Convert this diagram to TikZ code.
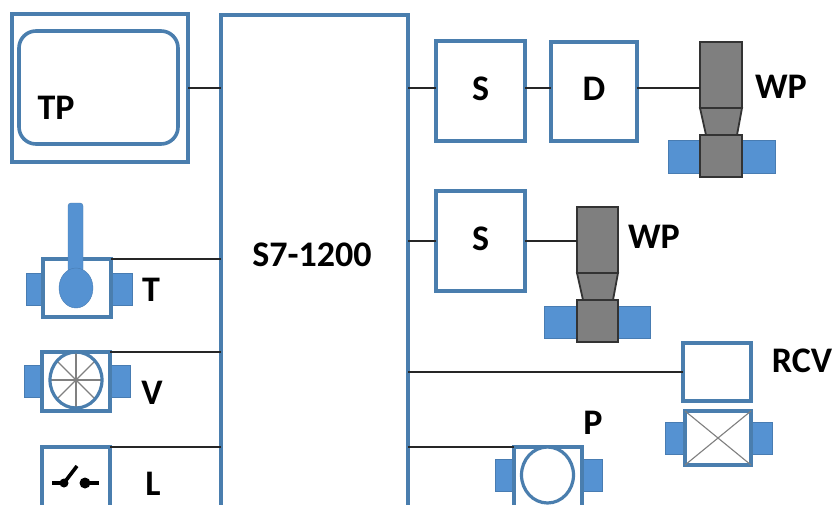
\documentclass[tikz,border=0pt]{standalone}
\usepackage{fontspec}
\usetikzlibrary{shapes.geometric}
\setmainfont{Carlito}
\definecolor{frame}{HTML}{4A7EAE}
\definecolor{pipe}{HTML}{5592D2}
\definecolor{wpgray}{HTML}{7F7F7F}
\tikzset{
  box/.style={draw=frame,line width=3.6pt,fill=white,inner sep=0pt,outer sep=0pt,text depth=5pt,font=\fontsize{36}{36}\bfseries},
  pipeblock/.style={fill=pipe,draw=pipe!85!black,line width=0.4pt,inner sep=0pt,outer sep=0pt},
  wire/.style={draw=black!85,line width=2pt},
  tag/.style={inner sep=0pt,font=\fontsize{36}{36}\bfseries},
  gray part/.style={fill=wpgray,draw=black!80,line width=1.8pt,inner sep=0pt,outer sep=0pt},
  spoke/.style={draw=black!50,line width=1.1pt},
}
\newcommand{\bx}[6][box]{\node[#1,minimum width=#5-#3,minimum height=#6-#4,anchor=north west] (#2) at (#3,#4) {};}
\newcommand{\bxt}[7][box]{\node[#1,minimum width=#5-#3,minimum height=#6-#4,anchor=north west] (#2) at (#3,#4) {#7};}
\begin{document}
\begin{tikzpicture}[x=1pt,y=-1pt]
\useasboundingbox (0,0) rectangle (834,504);
\clip (0,0) rectangle (834,504);
\fill[white] (0,0) rectangle (834,504);
% PLC
\bxt{plc}{221}{15}{408}{520}{}
\node[tag] (plclabel) at (312,255) {S7-1200};
% TP
\bx{tp}{12}{14}{188}{162}
\node[box,rounded corners=17pt,minimum width=159pt,minimum height=113pt,anchor=north west] (tpin) at (19,31) {};
\node[tag] (tplabel) at (56,108) {TP};
\draw[wire] (tp.east |- 0,88) -- (plc.west |- 0,88);
% S D WP top
\bxt{s1}{436}{41}{525}{141}{S}
\bxt{d1}{551}{42}{637}{141}{D}
\bxt{s2}{436}{191}{525}{291}{S}
\coordinate (j1) at (plc.east |- 0,88);
\draw[wire] (j1) -- (s1.west |- j1);
\draw[wire] (s1.east |- j1) -- (d1.west |- j1);
\coordinate (j2) at (plc.east |- s2.west);
\draw[wire] (j2) -- (s2.west);
% WP 1
\bx[pipeblock]{wp1l}{668}{140}{775}{173}
\bx[gray part]{wp1b}{700}{135}{742}{177}
\draw[gray part] (700,108) -- (706,135) -- (737,135) -- (742,108) -- cycle;
\bx[gray part]{wp1t}{700}{42}{742}{108}
\draw[wire] (d1.east |- j1) -- (wp1t.west |- j1);
\node[tag] (wp1label) at (781,87) {WP};
% WP 2
\bx[pipeblock]{wp2l}{544}{306}{650}{338}
\bx[gray part]{wp2b}{577}{300}{618}{342}
\draw[gray part] (577,273) -- (583,300) -- (613,300) -- (618,273) -- cycle;
\bx[gray part]{wp2t}{577}{207}{618}{273}
\draw[wire] (s2.east) -- (wp2t.west |- s2.east);
\node[tag] (wp2label) at (654,237) {WP};
% T
\bx[pipeblock]{tl}{26}{273}{132}{305}
\bx{tb}{43}{259}{111}{317}
\bx[pipeblock,rounded corners=3pt]{th}{68}{203}{83}{272}
\node[pipeblock,ellipse,minimum width=34pt,minimum height=40pt] (te) at (76,288) {};
\draw[wire] (tb.north east) -- (tb.north east -| plc.west);
\node[tag] (tlabel) at (151,290) {T};
% V
\bx[pipeblock]{vl}{24}{365}{130}{397}
\bx{vb}{42}{352}{110}{411}
\node[ellipse,minimum width=52pt,minimum height=56pt,inner sep=0pt,outer sep=0pt] (vc) at (76,380) {};
\foreach \a in {0,45,...,315} \draw[spoke] (vc.center) -- (vc.\a);
\node[draw=frame,line width=3.2pt,ellipse,minimum width=52pt,minimum height=56pt,inner sep=0pt,outer sep=0pt] (vr) at (76,380) {};
\draw[wire] (vb.north east) -- (vb.north east -| plc.west);
\node[tag] (vlabel) at (152,393) {V};
% L
\bx{lb}{42}{447}{110}{520}
\coordinate (sa) at (52,483);
\coordinate (sb) at (64,483);
\coordinate (sc) at (77,466);
\coordinate (sd) at (85,483);
\coordinate (se) at (99,483);
\draw[line width=3.6pt,black] (sa) -- (sb) -- (sc);
\fill[black] (sb) circle (4.5pt);
\draw[line width=3.6pt,black] (sd) -- (se);
\fill[black] (sd) circle (5.5pt);
\draw[wire] (lb.north east) -- (lb.north east -| plc.west);
\node[tag] (llabel) at (153,484) {L};
% RCV
\bx{rcv}{683}{343}{751}{401}
\draw[wire] (plc.east |- rcv.west) -- (rcv.west);
\bx[pipeblock]{rl}{665}{422}{772}{454}
\bx{rb}{685}{411}{751}{465}
\draw[spoke] (rb.north west) -- (rb.south east);
\draw[spoke] (rb.north east) -- (rb.south west);
\node[tag] (rcvlabel) at (802,361) {RCV};
% P
\bx[pipeblock]{pl}{495}{459}{602}{491}
\bx{pb}{514}{447}{582}{520}
\node[draw=frame,line width=3.2pt,ellipse,minimum width=52pt,minimum height=56pt,inner sep=0pt,outer sep=0pt,fill=white] (pc) at (547.5,475) {};
\draw[wire] (plc.east |- pb.north west) -- (pb.north west);
\node[tag] (plabel) at (593,423) {P};
\end{tikzpicture}
\end{document}
